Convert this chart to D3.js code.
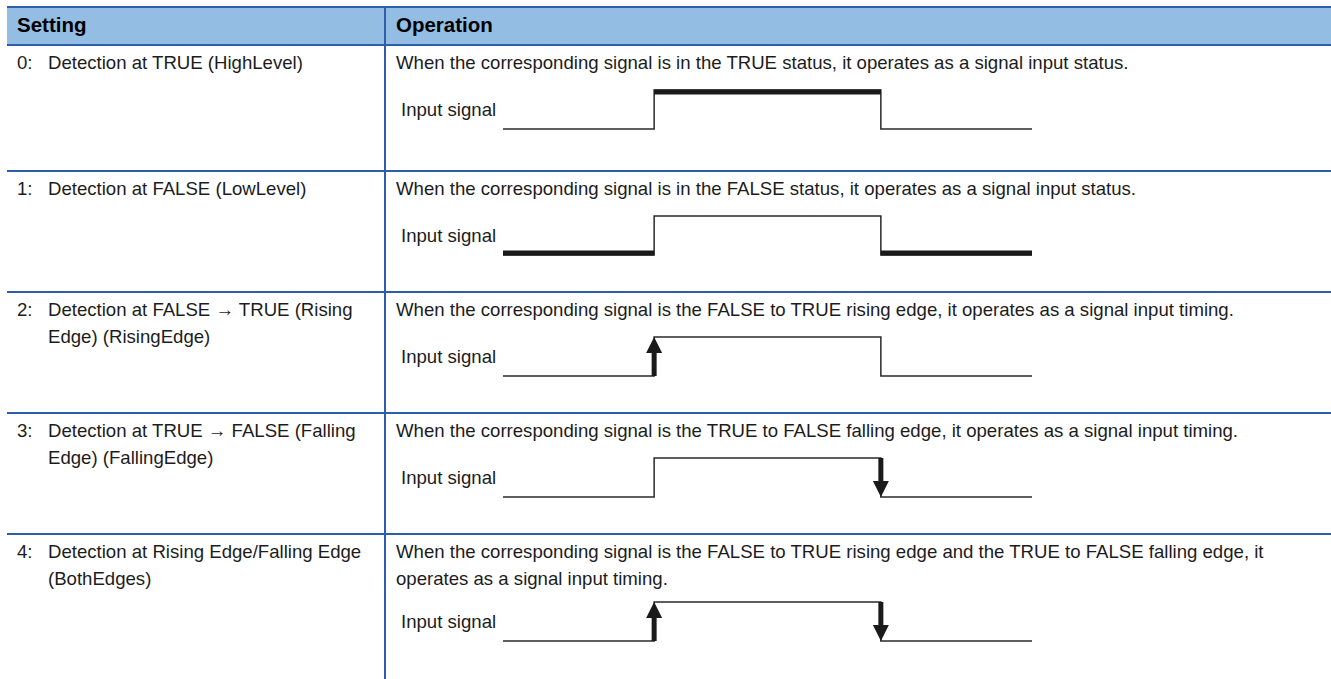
<!DOCTYPE html>
<html>
<head>
<meta charset="utf-8">
<script src="https://cdn.jsdelivr.net/npm/d3@7"></script>
<style>
html,body{margin:0;padding:0;background:#fff;}
svg{display:block;}
</style>
</head>
<body>
<svg id="chart" width="1331" height="679"></svg>
<script>
// ---- data ----
const headers = ["Setting", "Operation"];
const settingCodes = ["0:", "1:", "2:", "3:", "4:"];
const settingLines = [
  ["Detection at TRUE (HighLevel)"],
  ["Detection at FALSE (LowLevel)"],
  ["Detection at FALSE \u2192 TRUE (Rising", "Edge) (RisingEdge)"],
  ["Detection at TRUE \u2192 FALSE (Falling", "Edge) (FallingEdge)"],
  ["Detection at Rising Edge/Falling Edge", "(BothEdges)"]
];
const operationLines = [
  ["When the corresponding signal is in the TRUE status, it operates as a signal input status."],
  ["When the corresponding signal is in the FALSE status, it operates as a signal input status."],
  ["When the corresponding signal is the FALSE to TRUE rising edge, it operates as a signal input timing."],
  ["When the corresponding signal is the TRUE to FALSE falling edge, it operates as a signal input timing."],
  ["When the corresponding signal is the FALSE to TRUE rising edge and the TRUE to FALSE falling edge, it",
   "operates as a signal input timing."]
];
const signalLabel = "Input signal";
const signalTimes = [0, 2, 2, 5, 5, 7];
const signalLevels = [0, 0, 1, 1, 0, 0];
// thick highlighted segments per row: [t0, t1, level]
const thickSegments = [
  [[2, 5, 1]],
  [[0, 2, 0], [5, 7, 0]],
  [], [], []
];
// detection edges per row: [time, "rise"|"fall"]
const edgeArrows = [
  [], [],
  [[2, "rise"]],
  [[5, "fall"]],
  [[2, "rise"], [5, "fall"]]
];

// ---- layout ----
const W = 1331, H = 679;
const left = 7, divX = 385;
const headerTop = 7, headerBottom = 45;
const rowTops = [45, 171, 292, 413, 534, 679];
const blue = "#2e5dab", headFill = "#93bde3", ink = "#1c1c1c", wave = "#2a2a2a";
const font = "'Liberation Sans', Arial, Helvetica, sans-serif";
const fs = 18.6, lineGap = 26.5, waveShift = 23;

const svg = d3.select("#chart");
const x = d3.scaleLinear().domain([0, 7]).range([503, 1032]);

// header
svg.append("rect").attr("x", left).attr("y", headerTop).attr("width", W - left).attr("height", headerBottom - headerTop).attr("fill", headFill);
svg.selectAll("text.head").data(headers).join("text")
  .attr("class", "head")
  .attr("x", (d, i) => i === 0 ? 17 : 396)
  .attr("y", 32)
  .attr("font-family", font).attr("font-weight", "bold").attr("font-size", 20.5)
  .attr("fill", "#000").text(d => d);

// rows
const rows = svg.selectAll("g.row").data(settingCodes).join("g").attr("class", "row")
  .attr("transform", (d, i) => `translate(0,${rowTops[i]})`);

rows.append("text").attr("x", 17).attr("y", 24)
  .attr("font-family", font).attr("font-size", fs).attr("fill", ink).text(d => d);

rows.each(function(code, i) {
  const g = d3.select(this);
  settingLines[i].forEach((t, k) => {
    g.append("text").attr("x", 48).attr("y", 24 + k * lineGap)
      .attr("font-family", font).attr("font-size", fs).attr("fill", ink).text(t);
  });
  operationLines[i].forEach((t, k) => {
    g.append("text").attr("x", 396).attr("y", 24 + k * lineGap)
      .attr("font-family", font).attr("font-size", fs).attr("fill", ink).text(t);
  });
  const extra = (operationLines[i].length - 1) * waveShift;
  const yHigh = 45 + extra, yLow = 84 + extra;
  const y = d3.scaleLinear().domain([0, 1]).range([yLow, yHigh]);

  g.append("text").attr("x", 401).attr("y", (yHigh + yLow) / 2 + 6.5)
    .attr("font-family", font).attr("font-size", fs).attr("fill", ink).text(signalLabel);

  const line = d3.line().x(d => x(d[0])).y(d => y(d[1]));
  g.append("path").datum(signalTimes.map((t, k) => [t, signalLevels[k]]))
    .attr("d", line).attr("fill", "none").attr("stroke", wave).attr("stroke-width", 1.5);

  thickSegments[i].forEach(s => {
    const yy = y(s[2]) + (s[2] === 1 ? 2 : -2);
    g.append("line").attr("x1", x(s[0])).attr("x2", x(s[1]))
      .attr("y1", yy).attr("y2", yy)
      .attr("stroke", "#1a1a1a").attr("stroke-width", 5);
  });

  edgeArrows[i].forEach(a => {
    const ax = x(a[0]);
    const hw = 8, hh = 16;
    if (a[1] === "rise") {
      g.append("line").attr("x1", ax).attr("x2", ax).attr("y1", yLow).attr("y2", yHigh + hh - 1)
        .attr("stroke", "#1a1a1a").attr("stroke-width", 5);
      g.append("path").attr("d", `M${ax},${yHigh} L${ax - hw},${yHigh + hh} L${ax + hw},${yHigh + hh} Z`).attr("fill", "#1a1a1a");
    } else {
      g.append("line").attr("x1", ax).attr("x2", ax).attr("y1", yHigh).attr("y2", yLow - hh + 1)
        .attr("stroke", "#1a1a1a").attr("stroke-width", 5);
      g.append("path").attr("d", `M${ax},${yLow} L${ax - hw},${yLow - hh} L${ax + hw},${yLow - hh} Z`).attr("fill", "#1a1a1a");
    }
  });
});

// grid lines
svg.selectAll("line.hline").data([headerTop, ...rowTops.slice(0, 5)]).join("line")
  .attr("class", "hline").attr("x1", left).attr("x2", W).attr("y1", d => d).attr("y2", d => d)
  .attr("stroke", blue).attr("stroke-width", 2);
svg.append("line").attr("x1", divX).attr("x2", divX).attr("y1", headerTop).attr("y2", H)
  .attr("stroke", blue).attr("stroke-width", 2);
</script>
</body>
</html>
